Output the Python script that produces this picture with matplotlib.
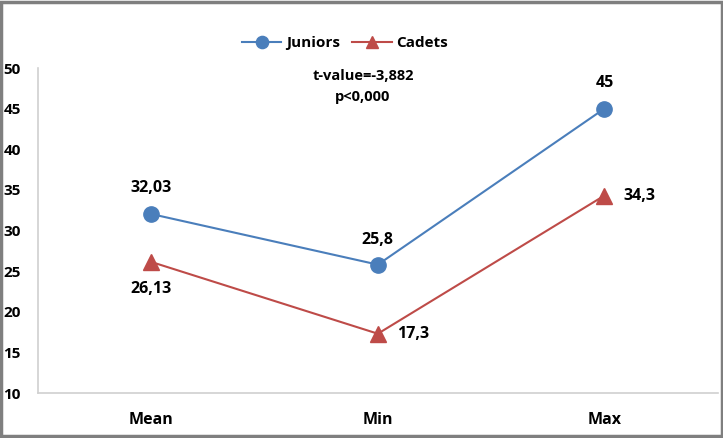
import matplotlib.pyplot as plt
from matplotlib.patches import Rectangle

categories = ["Mean", "Min", "Max"]
juniors = [32.03, 25.8, 45]
cadets = [26.13, 17.3, 34.3]
juniors_labels = ["32,03", "25,8", "45"]
cadets_labels = ["26,13", "17,3", "34,3"]
yticks = [10, 15, 20, 25, 30, 35, 40, 45, 50]

plt.rcParams['font.family'] = ['Open Sans', 'DejaVu Sans']
plt.rcParams['font.weight'] = 'bold'

blue = '#4A7EBB'
red = '#BE4B48'
fs = 11.5

fig = plt.figure(figsize=(7.23, 4.38), dpi=100)
ax = fig.add_axes([0.0526, 0.1027, 0.94, 0.742])
x = list(range(len(categories)))

ax.plot(x, juniors, color=blue, lw=1.5, marker='o', ms=11, label='Juniors')
ax.plot(x, cadets, color=red, lw=1.5, marker='^', ms=11, label='Cadets')

ax.set_xlim(-0.5, 2.5)
ax.set_ylim(10, 50)
ax.set_yticks(yticks)
ax.set_xticks(x)
ax.set_xticklabels(categories, fontsize=fs, fontweight='bold')
ax.tick_params(axis='y', length=0, pad=25, labelsize=11)
ax.tick_params(axis='x', length=0, pad=14)
for lab in ax.get_yticklabels():
    lab.set_fontweight('bold')
    lab.set_horizontalalignment('left')

for s in ['top', 'right']:
    ax.spines[s].set_visible(False)
for s in ['left', 'bottom']:
    ax.spines[s].set_color('#D0D0D0')
    ax.spines[s].set_linewidth(1.2)

# data labels
ax.annotate(juniors_labels[0], (0, juniors[0]), xytext=(0, 13), textcoords='offset points',
            ha='center', va='bottom', fontsize=fs, fontweight='bold')
ax.annotate(juniors_labels[1], (1, juniors[1]), xytext=(0, 12), textcoords='offset points',
            ha='center', va='bottom', fontsize=fs, fontweight='bold')
ax.annotate(juniors_labels[2], (2, juniors[2]), xytext=(0, 13), textcoords='offset points',
            ha='center', va='bottom', fontsize=fs, fontweight='bold')
ax.annotate(cadets_labels[0], (0, cadets[0]), xytext=(0, -14), textcoords='offset points',
            ha='center', va='top', fontsize=fs, fontweight='bold')
ax.annotate(cadets_labels[1], (1, cadets[1]), xytext=(14, 0), textcoords='offset points',
            ha='left', va='center', fontsize=fs, fontweight='bold')
ax.annotate(cadets_labels[2], (2, cadets[2]), xytext=(14, 0), textcoords='offset points',
            ha='left', va='center', fontsize=fs, fontweight='bold')

fig.text(363 / 723, 1 - 76 / 438, "t-value=-3,882", ha='center', va='center',
         fontsize=10.5, fontweight='bold')
fig.text(363 / 723, 1 - 97 / 438, "p<0,000", ha='center', va='center',
         fontsize=10.5, fontweight='bold')

fig.legend(loc='center', bbox_to_anchor=(345 / 723, 1 - 43 / 438), ncol=2, frameon=False,
           fontsize=11, handlelength=2.6, columnspacing=0.8, handletextpad=0.3,
           markerscale=0.8)

fig.patches.append(Rectangle((0.002, 0.004), 0.996, 0.992, transform=fig.transFigure,
                             fill=False, edgecolor='#7F7F7F', lw=2.5))

plt.savefig('out.png', dpi=100)
